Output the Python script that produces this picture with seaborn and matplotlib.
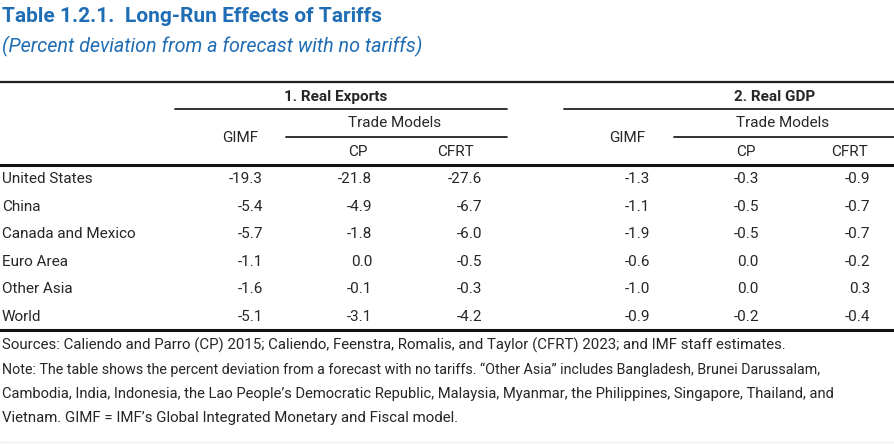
import pandas as pd
import numpy as np
import matplotlib.pyplot as plt
import seaborn as sns

countries = ['United States', 'China', 'Canada and Mexico', 'Euro Area', 'Other Asia', 'World']
exports_gimf = [-19.3, -5.4, -5.7, -1.1, -1.6, -5.1]
exports_cp = [-21.8, -4.9, -1.8, 0.0, -0.1, -3.1]
exports_cfrt = [-27.6, -6.7, -6.0, -0.5, -0.3, -4.2]
gdp_gimf = [-1.3, -1.1, -1.9, -0.6, -1.0, -0.9]
gdp_cp = [-0.3, -0.5, -0.5, 0.0, 0.0, -0.2]
gdp_cfrt = [-0.9, -0.7, -0.7, -0.2, 0.3, -0.4]

title = 'Table 1.2.1.  Long-Run Effects of Tariffs'
subtitle = '(Percent deviation from a forecast with no tariffs)'
note_lines = [
    'Sources: Caliendo and Parro (CP) 2015; Caliendo, Feenstra, Romalis, and Taylor (CFRT) 2023; and IMF staff estimates.',
    'Note: The table shows the percent deviation from a forecast with no tariffs. \u201cOther Asia\u201d includes Bangladesh, Brunei Darussalam,',
    'Cambodia, India, Indonesia, the Lao People\u2019s Democratic Republic, Malaysia, Myanmar, the Philippines, Singapore, Thailand, and',
    'Vietnam. GIMF = IMF\u2019s Global Integrated Monetary and Fiscal model.',
]

df = pd.DataFrame({'country': countries,
                   'ex_gimf': exports_gimf, 'ex_cp': exports_cp, 'ex_cfrt': exports_cfrt,
                   'gdp_gimf': gdp_gimf, 'gdp_cp': gdp_cp, 'gdp_cfrt': gdp_cfrt})

sns.set_theme(style='white')
plt.rcParams['font.family'] = ['Roboto', 'Liberation Sans', 'DejaVu Sans']

blue = '#1f6db4'
fs = 11

fig = plt.figure(figsize=(8.94, 4.44), dpi=100)
ax = fig.add_axes([0, 0, 1, 1])
ax.set_xlim(0, 894)
ax.set_ylim(444, 0)
ax.axis('off')

ax.text(2, 16, title, fontsize=15, fontweight='bold', color=blue, va='center', ha='left')
ax.text(2, 46, subtitle, fontsize=14.2, fontstyle='italic', color=blue, va='center', ha='left')

# rules
ax.plot([0, 894], [82, 82], color='#222222', lw=1.6)
ax.plot([175, 507], [109, 109], color='#222222', lw=1.3)
ax.plot([564, 894], [109, 109], color='#222222', lw=1.3)
ax.plot([286, 507], [137, 137], color='#222222', lw=1.3)
ax.plot([674, 894], [137, 137], color='#222222', lw=1.3)
ax.plot([0, 894], [165, 165], color='#111111', lw=2.2)
ax.plot([0, 894], [330, 330], color='#111111', lw=2.2)
ax.plot([0, 894], [442, 442], color='#eeeeee', lw=1.0)

# headers
ax.text(336, 97, '1. Real Exports', fontsize=fs, fontweight='bold', ha='center', va='center')
ax.text(775, 97, '2. Real GDP', fontsize=fs, fontweight='bold', ha='center', va='center')
for gx, tx, cpx, cfx in [(240, 395, 358, 456), (627, 783, 746, 849)]:
    ax.text(gx, 138, 'GIMF', fontsize=fs, ha='center', va='center')
    ax.text(tx, 123, 'Trade Models', fontsize=fs, ha='center', va='center')
    ax.text(cpx, 152, 'CP', fontsize=fs, ha='center', va='center')
    ax.text(cfx, 152, 'CFRT', fontsize=fs, ha='center', va='center')

# body
row_y = np.linspace(179, 317, len(df))
col_right = {'ex_gimf': 263, 'ex_cp': 372, 'ex_cfrt': 482,
             'gdp_gimf': 650, 'gdp_cp': 759, 'gdp_cfrt': 870}
for y, (_, r) in zip(row_y, df.iterrows()):
    ax.text(2, y, r['country'], fontsize=fs, ha='left', va='center')
    for col, xr in col_right.items():
        ax.text(xr, y, f'{r[col]:.1f}', fontsize=fs, ha='right', va='center')

# the first note line is set tighter in the source
note_fs = [10.8, 10.3, 10.6, 10.8]
for i, line in enumerate(note_lines):
    ax.text(2, 345 + 24.3 * i, line, fontsize=note_fs[i], ha='left', va='center')

fig.savefig('out.png', dpi=100)
